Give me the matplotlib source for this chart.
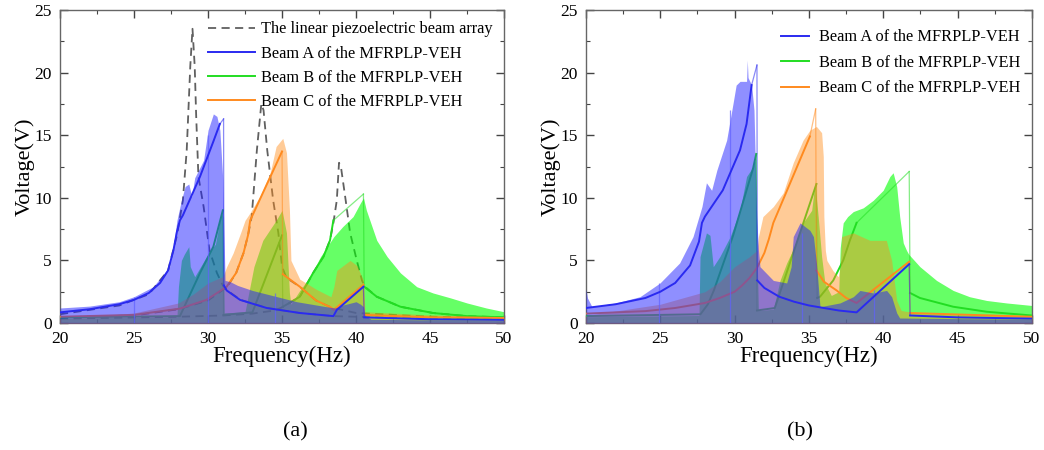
import matplotlib
matplotlib.use("Agg")
import matplotlib.pyplot as plt
from matplotlib.ticker import MultipleLocator

plt.rcParams['font.family'] = 'serif'
plt.rcParams['font.serif'] = ['Liberation Serif', 'DejaVu Serif']

# ---------------- panel (a) ----------------
# linear piezoelectric beam array (three linear beams)
lin1_x = [20, 24, 26, 27.3, 27.9, 28.3, 28.56, 28.8, 28.95, 29.1, 29.2, 29.35, 29.7, 30.1,
          30.6, 31.0, 31.3, 32.2, 34, 36.2, 38.5, 40, 45, 50]
lin1_y = [0.7, 1.4, 2.3, 4.2, 7.0, 9.8, 13.8, 20.5, 23.5, 20.5, 16.5, 11.7, 9.3, 5.8,
          4.0, 3.0, 2.6, 1.85, 1.2, 0.8, 0.55, 0.5, 0.35, 0.3]
lin2_x = [20, 25, 28, 30, 31.3, 31.9, 32.4, 32.7, 32.95, 33.3, 33.6, 33.75, 34.0, 34.4,
          34.75, 35.0, 35.3, 36.2, 37.3, 38.3, 40, 45, 50]
lin2_y = [0.45, 0.6, 1.1, 1.8, 2.9, 4.0, 5.6, 7.0, 8.5, 13.8, 17.5, 17.0, 13.8, 9.8,
          7.2, 4.5, 3.6, 2.9, 1.8, 1.25, 0.8, 0.5, 0.4]
lin3_x = [20, 28, 31, 33, 34.5, 35.1, 35.5, 36.2, 37.1, 37.8, 38.24, 38.47, 38.7, 38.85,
          39.0, 39.3, 39.6, 40.05, 40.4, 40.6, 41.4, 43, 45.2, 47.5, 50]
lin3_y = [0.35, 0.5, 0.6, 0.75, 1.0, 1.3, 1.6, 2.1, 4.0, 5.3, 6.6, 8.0, 9.8, 12.8,
          12.3, 9.8, 7.2, 5.0, 3.4, 2.9, 2.1, 1.3, 0.8, 0.55, 0.45]

# MFRPLP-VEH simulated curves (a); *_jump = segments drawn as thin jump lines
a_blue_x = [20, 22, 24, 25, 26, 26.76, 27.3, 27.66, 27.9, 28.1, 28.3, 29.46, 30.36, 30.8,
            31.05, 31.07, 31.26, 32.16, 33.96, 36.2, 38.47, 38.7, 40.5, 40.55, 45, 50]
a_blue_y = [0.85, 1.1, 1.5, 1.85, 2.4, 3.2, 4.2, 5.8, 7.3, 8.2, 8.6, 11.7, 14.5, 15.9,
            16.3, 3.0, 2.6, 1.85, 1.2, 0.8, 0.55, 1.05, 2.9, 0.45, 0.3, 0.25]
a_blue_jump = [13, 14, 22]
a_green_x = [20, 28.1, 29.46, 30.36, 31.0, 31.05, 33.0, 35.0, 35.05, 35.5, 36.2, 37.1, 37.8,
             38.24, 38.47, 40.5, 40.55, 41.4, 43.0, 45.2, 47.5, 50]
a_green_y = [0.45, 0.55, 4.0, 6.1, 9.0, 0.65, 0.85, 7.0, 1.3, 1.6, 2.1, 4.0, 5.3,
             6.6, 8.2, 10.3, 2.9, 2.1, 1.3, 0.8, 0.55, 0.45]
a_green_jump = [4, 7, 14, 15]
a_orange_x = [20, 25, 28.1, 29.9, 31.26, 31.9, 32.4, 32.7, 32.85, 35.0, 35.05, 36.2, 37.3,
              38.3, 38.5, 40.5, 40.55, 45, 50]
a_orange_y = [0.5, 0.65, 1.15, 1.85, 2.9, 4.0, 5.6, 7.0, 8.2, 13.7, 3.9, 2.9, 1.8,
              1.25, 1.05, 3.05, 0.65, 0.45, 0.4]
a_orange_jump = [9, 15]

# experimental envelopes (a)
a_blue_fx = [20, 22, 24, 25, 26.3, 27.4, 27.65, 27.9, 28.2, 28.45, 28.7, 28.9, 29.1, 29.7,
             30.0, 30.36, 30.6, 30.8, 31.0, 31.15, 31.5, 32, 33, 34, 35, 36, 37, 38, 38.6,
             39, 40, 40.3, 40.5, 40.6, 41, 45, 50]
a_blue_fy = [1.2, 1.35, 1.7, 2.1, 2.9, 4.5, 6.1, 8.2, 9.8, 10.9, 11.1, 10.1, 11.6, 13.0,
             15.4, 16.7, 16.5, 15.4, 11.4, 3.4, 3.3, 3.0, 2.6, 2.3, 2.0, 1.7, 1.5, 1.3, 1.2,
             1.4, 1.7, 1.5, 1.3, 0.6, 0.3, 0.25, 0.2]
a_green_fx = [20, 27.9, 28.0, 28.2, 28.4, 28.7, 28.8, 29.1, 29.5, 30.0, 30.5, 30.9, 31.0,
              31.1, 32.5, 33.1, 33.7, 34.6, 35.0, 35.3, 35.5, 35.6, 36.2, 36.9, 37.6, 38.5,
              39.1, 39.8, 40.3, 40.5, 40.7, 41.4, 42.1, 43.0, 44.1, 45.2, 46.4, 47.5, 48.8, 50]
a_green_fy = [0.4, 0.5, 2.9, 5.0, 5.5, 6.1, 4.5, 3.7, 4.5, 5.5, 6.3, 8.8, 8.5,
              0.8, 0.9, 4.5, 6.6, 8.2, 9.0, 7.2, 2.4, 1.5, 2.6, 3.7, 5.3, 6.9,
              7.7, 8.5, 9.6, 10.0, 9.0, 6.6, 5.3, 4.0, 2.9, 2.4, 2.0, 1.6, 1.2, 0.9]
a_orange_fx = [20, 25, 28, 29, 30, 31, 31.26, 31.7, 32.2, 32.5, 32.84, 33.5, 34.2, 34.6,
               35.05, 35.3, 35.5, 35.6, 36.2, 37.3, 38.3, 38.5, 38.7, 39.6, 40.05, 40.5,
               40.6, 45, 50]
a_orange_fy = [0.35, 0.8, 1.6, 2.3, 3.2, 3.7, 4.5, 5.6, 7.2, 8.2, 8.8, 10.1, 12.0, 14.1,
               14.75, 13.6, 9.0, 5.0, 3.5, 2.7, 2.1, 2.9, 4.2, 5.0, 4.6, 3.4,
               0.9, 0.65, 0.5]
# isolated glitch lines in the measured blue record (a)
a_spike_x = [25.0, 30.0, 34.55]
a_spike_y = [2.1, 15.0, 2.4]

# ---------------- panel (b) ----------------
b_blue_x = [20, 22, 24, 25, 26, 27, 27.6, 27.8, 28.0, 29.2, 30.36, 30.8, 31.14, 31.5,
            31.52, 32, 33, 34, 35, 36, 37, 38.2, 41.74, 41.8, 45, 50]
b_blue_y = [1.2, 1.5, 2.0, 2.5, 3.2, 4.6, 6.5, 8.0, 8.5, 10.6, 13.8, 15.9, 19.0, 20.6,
            3.4, 2.8, 2.1, 1.7, 1.4, 1.2, 1.0, 0.85, 4.7, 0.6, 0.45, 0.35]
b_blue_jump = [12, 13, 22]
b_green_x = [20, 27.7, 28.2, 28.6, 29.1, 29.9, 30.6, 31.25, 31.45, 31.5, 32.7, 35.5,
             35.55, 35.74, 36.63, 37.3, 37.75, 38.2, 41.74, 41.8, 42.46, 44.7, 46.95, 50]
b_green_y = [0.55, 0.7, 1.5, 2.6, 4.3, 7.0, 9.8, 12.4, 13.5, 1.0, 1.2, 11.1,
             2.0, 2.1, 3.4, 5.0, 6.6, 8.0, 12.1, 2.4, 2.0, 1.3, 0.9, 0.6]
b_green_jump = [8, 11, 17, 18]
b_orange_x = [20, 24, 26, 28, 29, 30, 30.5, 31, 31.5, 32, 32.3, 32.6, 35.06, 35.45, 35.5,
              36, 36.86, 37.5, 38.2, 41.74, 41.8, 50]
b_orange_y = [0.75, 0.95, 1.2, 1.6, 2.0, 2.5, 3.0, 3.6, 4.4, 5.6, 6.7, 8.0, 14.9, 17.1, 4.2,
              3.3, 2.6, 2.0, 1.6, 4.9, 0.8, 0.5]
b_orange_jump = [12, 13, 19]

b_blue_fx = [20, 20.1, 20.4, 22, 23.63, 24.98, 26.3, 27.2, 27.8, 28.1, 28.45, 28.8, 29.46,
             29.9, 30.1, 30.36, 30.8, 30.85, 30.9, 31.14, 31.3, 31.48, 31.6, 31.7, 32.6, 33.5,
             33.8, 33.94, 34.4, 35.06, 35.3, 35.5, 35.74, 37.08, 37.98, 38.43, 39.32, 40.22,
             40.56, 40.9, 41.1, 45, 50]
b_blue_fy = [2.7, 2.0, 1.3, 1.6, 2.1, 3.2, 4.8, 6.9, 9.3, 11.2, 10.6, 12.2, 14.6,
             17.6, 19.0, 19.3, 19.3, 21.0, 19.6, 19.0, 17.0, 8.5, 5.8, 4.5, 3.4, 3.2,
             4.5, 6.9, 8.0, 7.4, 6.9, 4.8, 1.3, 1.6, 2.1, 2.6, 2.4, 2.6,
             2.1, 0.8, 0.4, 0.35, 0.3]
b_green_fx = [20, 27.6, 27.67, 28.1, 28.34, 28.56, 29.0, 29.7, 30.36, 30.8, 31.25, 31.43,
              31.5, 31.6, 32.6, 33.05, 33.5, 33.94, 34.6, 35.18, 35.4, 35.62, 35.85, 36.07,
              36.5, 37.0, 37.1, 37.3, 37.6, 37.98, 38.65, 39.32, 39.99, 40.44, 40.66, 40.9,
              41.1, 41.34, 41.56, 41.7, 42.46, 43.58, 44.7, 45.8, 46.95, 48.3, 50]
b_green_fy = [0.5, 0.6, 5.3, 7.2, 7.0, 4.5, 5.3, 6.9, 9.0, 11.7, 12.5, 13.2,
              6.0, 1.0, 1.1, 3.4, 4.8, 5.9, 8.0, 9.0, 11.2, 8.5, 5.3, 3.2,
              2.2, 2.5, 6.0, 8.0, 8.5, 8.9, 9.2, 9.8, 10.6, 11.7, 12.0, 10.9,
              8.5, 6.4, 5.8, 5.5, 4.5, 3.4, 2.6, 2.1, 1.8, 1.6, 1.4]
b_orange_fx = [20, 25, 28, 29, 30, 31, 31.5, 31.6, 31.9, 32.6, 33.27, 33.94, 34.6, 35.06,
               35.5, 35.85, 35.96, 36.0, 36.1, 36.2, 36.6, 36.97, 37.1, 37.2, 37.98, 39.1,
               40.2, 40.56, 40.9, 41.2, 41.7, 41.8, 45, 50]
b_orange_fy = [0.6, 1.5, 2.5, 3.3, 4.5, 5.3, 5.8, 6.9, 8.5, 9.3, 10.4, 12.8, 14.6, 15.4,
               15.7, 15.2, 13.3, 8.5, 5.8, 5.0, 4.2, 3.7, 4.5, 6.9, 7.2, 6.6,
               6.6, 5.0, 1.8, 1.0, 0.9, 0.75, 0.65, 0.55]
b_spike_x = [24.9, 29.7, 34.5, 39.4]
b_spike_y = [3.2, 17.0, 7.2, 2.6]

labels = ["Beam A of the MFRPLP-VEH", "Beam B of the MFRPLP-VEH", "Beam C of the MFRPLP-VEH"]
c_blue, c_green, c_orange = '#2a2af0', '#22dd22', '#ff8a1e'
f_blue, f_green, f_orange = '#2020ff', '#00ff00', '#ff8c1a'

fig = plt.figure(figsize=(10.44, 4.5), dpi=100)
ax1 = fig.add_axes([0.0575, 0.2822, 0.4253, 0.6956])
ax2 = fig.add_axes([0.5613, 0.2822, 0.4272, 0.6956])


def curve(ax, x, y, jumps, color, z, label):
    # thick runs between jumps, thin light segments for the jumps
    start = 0
    handle = None
    for i in range(len(x) - 1):
        if i in jumps:
            if i > start:
                ln, = ax.plot(x[start:i + 1], y[start:i + 1], color=color, lw=1.4, zorder=z)
                handle = handle or ln
            ax.plot(x[i:i + 2], y[i:i + 2], color=color, lw=0.9, alpha=0.55, zorder=z)
            start = i + 1
    ln, = ax.plot(x[start:], y[start:], color=color, lw=1.4, zorder=z)
    handle = handle or ln
    handle.set_label(label)
    return handle


def draw(ax, lines, fills, sx, sy):
    (bx, by, bj), (gx, gy, gj), (ox, oy, oj) = lines
    (bfx, bfy), (gfx, gfy), (ofx, ofy) = fills
    ax.fill_between(gfx, 0, gfy, color=f_green, alpha=0.6, lw=0, zorder=2)
    lg = curve(ax, gx, gy, gj, c_green, 3, labels[1])
    ax.fill_between(ofx, 0, ofy, color=f_orange, alpha=0.45, lw=0, zorder=4)
    lo = curve(ax, ox, oy, oj, c_orange, 5, labels[2])
    ax.fill_between(bfx, 0, bfy, color=f_blue, alpha=0.5, lw=0, zorder=6)
    ax.vlines(sx, 0, sy, color='#6060ff', lw=0.9, alpha=0.7, zorder=6)
    lb = curve(ax, bx, by, bj, c_blue, 7, labels[0])
    return lb, lg, lo


dash = (0, (4.5, 3))
ld, = ax1.plot(lin1_x, lin1_y, color='#606060', lw=1.3, ls=dash, zorder=1,
               label="The linear piezoelectric beam array")
ax1.plot(lin2_x, lin2_y, color='#606060', lw=1.3, ls=dash, zorder=1)
ax1.plot(lin3_x, lin3_y, color='#606060', lw=1.3, ls=dash, zorder=1)

h1 = draw(ax1,
          [(a_blue_x, a_blue_y, a_blue_jump), (a_green_x, a_green_y, a_green_jump),
           (a_orange_x, a_orange_y, a_orange_jump)],
          [(a_blue_fx, a_blue_fy), (a_green_fx, a_green_fy), (a_orange_fx, a_orange_fy)],
          a_spike_x, a_spike_y)
h2 = draw(ax2,
          [(b_blue_x, b_blue_y, b_blue_jump), (b_green_x, b_green_y, b_green_jump),
           (b_orange_x, b_orange_y, b_orange_jump)],
          [(b_blue_fx, b_blue_fy), (b_green_fx, b_green_fy), (b_orange_fx, b_orange_fy)],
          b_spike_x, b_spike_y)

for ax in (ax1, ax2):
    ax.set_xlim(20, 50)
    ax.set_ylim(0, 25)
    ax.xaxis.set_major_locator(MultipleLocator(5))
    ax.xaxis.set_minor_locator(MultipleLocator(2.5))
    ax.yaxis.set_major_locator(MultipleLocator(5))
    ax.yaxis.set_minor_locator(MultipleLocator(2.5))
    ax.tick_params(which='both', direction='in', top=True, right=True,
                   color='#444444', labelsize=12.5, pad=6)
    ax.tick_params(which='major', length=6, width=1.0)
    ax.tick_params(which='minor', length=3, width=0.8)
    for s in ax.spines.values():
        s.set_color('#666666')
        s.set_linewidth(1.0)
    ax.set_xlabel("Frequency(Hz)", fontsize=16.5, labelpad=-1)
    ax.set_ylabel("Voltage(V)", fontsize=16, labelpad=0)

ax1.legend([ld] + list(h1), [ld.get_label()] + labels, loc='upper right',
           bbox_to_anchor=(1.0, 1.0), frameon=False, fontsize=11.8, handlelength=2.9,
           handletextpad=0.35, labelspacing=0.5, borderaxespad=0.3)
ax2.legend(list(h2), labels, loc='upper right', bbox_to_anchor=(1.0, 0.975),
           frameon=False, fontsize=11.8, handlelength=1.7, handletextpad=0.6,
           labelspacing=0.58, borderaxespad=0.3)

fig.text(0.2826, 0.04, "(a)", ha='center', va='center', fontsize=16)
fig.text(0.766, 0.04, "(b)", ha='center', va='center', fontsize=16)

fig.savefig("out.png", dpi=100)
